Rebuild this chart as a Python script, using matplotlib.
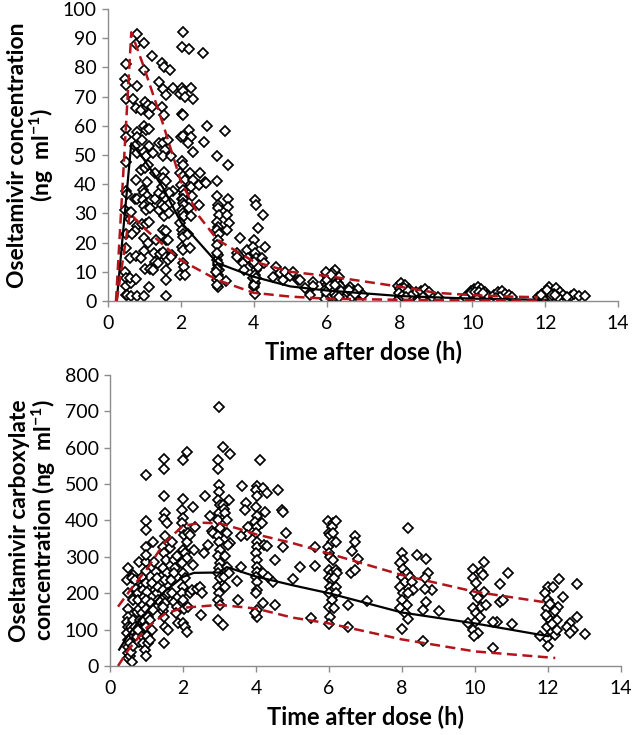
import matplotlib
matplotlib.use("Agg")
import matplotlib.pyplot as plt

plt.rcParams["font.family"] = ["Lato", "DejaVu Sans"]
plt.rcParams["mathtext.default"] = "regular"

# ---- top panel: oseltamivir (observed points) ----
ost_t = [
    0.49, 0.46, 0.49, 0.49, 0.49, 0.49, 0.49, 0.50, 0.46, 0.49, 0.49, 0.46, 0.49, 0.49, 0.49, 0.53, 0.53,
    0.58, 0.60, 0.64, 0.60, 0.64, 0.60, 0.62,
    0.81, 0.78, 0.81, 0.69, 0.78, 0.81, 0.81, 0.73, 0.81, 0.78, 0.73, 0.81, 0.81, 0.73, 0.78, 0.78, 0.81, 0.67,
    0.99, 0.99, 0.92, 1.01, 1.06, 0.99, 1.03, 0.94, 0.98, 1.04, 0.92, 1.02, 1.06, 0.96, 0.99, 1.06, 0.96, 1.06,
    0.99, 1.03, 0.94, 1.03, 0.98, 0.99, 0.92, 1.02, 0.99,
    1.10, 1.13, 1.12, 1.13, 1.11, 1.17, 1.15, 1.13, 1.10, 1.15, 1.12,
    1.20, 1.22, 1.24, 1.29, 1.28, 1.33, 1.27, 1.29, 1.24,
    1.40, 1.40, 1.40, 1.40, 1.44, 1.38,
    1.49, 1.54, 1.51, 1.58, 1.49, 1.54, 1.51, 1.56, 1.51, 1.54, 1.51, 1.49, 1.58, 1.53, 1.60, 1.49, 1.56, 1.54,
    1.51, 1.60, 1.58, 1.51, 1.58, 1.60, 1.60, 1.60,
    1.70, 1.79, 1.65, 1.72, 1.79, 1.68, 1.70, 1.67, 1.65, 1.77, 1.65, 1.74,
    2.05, 2.02, 1.97, 2.02, 2.06, 2.02, 2.05, 2.11, 2.00, 2.05, 2.02, 2.05, 1.97, 2.06, 2.11, 2.00, 2.05, 2.09,
    2.02, 2.06, 2.05, 2.08, 2.02, 2.05, 2.09, 1.97, 2.02, 2.06, 2.05, 2.02, 2.06, 2.05, 2.09, 1.97, 2.11,
    2.22, 2.29, 2.32, 2.21, 2.29, 2.20, 2.32, 2.25, 2.34, 2.27, 2.30, 2.23, 2.29, 2.20, 2.25,
    2.60, 2.63, 2.52, 2.50, 2.66, 2.50, 2.71, 2.69,
    3.00, 2.98, 3.00, 3.03, 3.01, 3.06, 2.98, 3.03, 2.98, 3.06, 3.02, 2.98, 3.03, 2.98, 3.01, 3.06, 3.03, 2.98,
    3.01, 3.00, 3.02, 3.00, 3.04, 3.00, 2.97,
    3.21, 3.30, 3.30, 3.30, 3.28, 3.33, 3.26, 3.24,
    3.62, 3.55, 3.62, 3.70, 3.81, 3.85, 3.73, 3.53,
    4.04, 4.06, 4.02, 3.99, 4.04, 4.06, 4.02, 4.06, 3.99, 4.04, 4.02, 4.04, 4.13, 4.13, 4.25, 4.31, 4.22, 4.27,
    4.00, 4.03, 4.00, 4.07,
    4.61, 4.52, 4.72, 4.80, 4.86, 5.00, 5.21, 5.09,
    5.27, 5.63, 5.63, 5.55, 5.40,
    6.24, 6.33, 5.98, 6.05, 6.15, 5.95, 6.00, 6.10, 6.20, 6.30, 5.97, 6.05, 6.15, 6.25, 6.38, 6.00, 6.10, 6.20,
    6.05, 5.96, 6.30, 6.40, 6.12, 5.99, 6.02, 6.08, 6.18, 6.27, 5.97, 6.12, 6.22, 6.35,
    6.65, 6.75, 6.80, 6.90, 7.00, 6.60, 6.70, 6.85, 6.62, 6.78,
    7.97, 8.05, 8.15, 8.25, 8.10, 8.00, 8.20, 8.30, 8.40, 8.00, 8.10, 8.20, 8.35, 7.98, 8.05, 8.45,
    8.02, 8.12, 8.22, 8.32, 7.99, 8.08, 8.18,
    8.60, 8.70, 8.75, 8.85, 8.90, 9.05, 8.65, 8.80,
    9.90, 9.95, 10.05, 10.15, 10.25, 10.35, 10.00, 10.10, 10.20, 10.30, 10.05, 9.80, 10.40,
    9.97, 10.08, 10.18, 10.28, 10.12,
    10.60, 10.70, 10.80, 10.90, 11.00, 11.10, 10.75, 10.65,
    11.80, 11.90, 12.00, 12.10, 12.20, 12.30, 12.40, 12.50, 12.00, 12.15, 12.35, 11.95, 12.25,
    12.05, 12.18, 12.28, 11.88,
    12.70, 12.80, 12.93, 13.10, 12.60,
]
ost_c = [
    81, 76, 74, 69, 59, 56, 47.5, 37.5, 31, 23, 18, 10, 8, 5, 2, 2, 36.5,
    30, 28, 30.5, 14.6, 6, 8, 1.7,
    91.4, 88, 73.7, 69, 66, 58, 56, 53, 50.6, 41.5, 35, 35, 25.7, 24, 15.4, 7.4, 1.7, 23,
    88.3, 79, 65.5, 68, 66.6, 60, 58.6, 55, 51, 49.5, 45, 45.5, 40.6, 38, 37, 36, 34.6, 33.5,
    32.6, 31, 26.4, 26.4, 21.5, 17, 14.6, 11, 1.7,
    67, 64, 59, 53, 46.6, 34.6, 32, 27, 20, 11, 4.7,
    84, 66.6, 50.6, 43.8, 35, 21, 16.3, 13.5, 10.6,
    75, 54, 37, 31, 16, 13,
    81.5, 80, 72.6, 70.6, 66.6, 63.8, 54, 51.8, 49.7, 44.3, 42, 39, 41, 35.8, 34.6, 33, 32.3, 29,
    24.3, 24, 21, 16.7, 15, 10.6, 7.2, 1.7,
    79, 73, 55, 49.5, 37.5, 37, 33.5, 30, 21, 15.8, 14, 15,
    92, 87, 71, 73, 72, 64, 63.8, 70, 56, 56.6, 48, 46.6, 43.8, 42.9, 41.5, 39.7, 38, 36.7,
    35, 35, 33.5, 33, 31, 30, 29, 26.6, 24.3, 23, 21.8, 18.6, 17.3, 13, 11.8, 9, 9,
    86.3, 73, 69, 58.6, 56, 54, 51, 43.8, 41.5, 39, 35.8, 31.8, 29, 23, 18,
    85, 54.6, 43.8, 39.8, 40.6, 33, 60, 40.3,
    49.5, 41, 35.8, 33, 32, 29.5, 27, 25.5, 24.3, 23, 21, 19, 15.8, 14, 12.3, 10.6, 9, 7.2,
    4.7, 16.5, 13, 11, 8, 5.5, 10,
    58.3, 46.4, 34.9, 32.3, 29.5, 26.6, 24.3, 7,
    21.5, 16.3, 15, 13, 17.5, 14.6, 10.6, 15,
    34.6, 33, 21, 18.6, 16.3, 14.6, 12.3, 10.6, 7.7, 6, 4.7, 2.4, 11.8, 25, 29.5, 18.6, 14.6, 13,
    13.5, 9, 5.5, 8,
    11.8, 8.3, 9.5, 7.2, 10, 8.6, 7.2, 10,
    7.2, 6.6, 5, 2, 4.5,
    10.6, 8.3, 9, 8, 9.5, 6.5, 5.5, 6.5, 7, 6, 4, 3.5, 4.5, 4, 5, 2, 2.5, 1.5,
    1, 0.8, 2.5, 3.5, 7.8, 10, 7.2, 5, 3, 1.8, 3, 9, 5.5, 1.2,
    4.7, 3.5, 2, 3, 2, 2.8, 1.5, 4.2, 3.8, 2.5,
    5, 6, 5.5, 4, 3.8, 3, 2.5, 3, 2, 1.5, 1, 0.8, 1.2, 0.6, 2.2, 3.2,
    4.2, 4.6, 3.5, 1.8, 2.7, 1.8, 1.5,
    3.5, 4, 2.5, 2, 1.5, 1.5, 1.2, 3,
    2.5, 3.5, 4, 4.8, 4, 3, 1.5, 1, 2, 1.5, 0.5, 1.5, 2.2,
    2.8, 3, 3.2, 2.6, 0.8,
    2, 3, 3.5, 2.5, 2, 1.5, 1.5, 1,
    1.5, 2.5, 3, 4.8, 3.5, 4.5, 3, 2, 1, 1.5, 1.2, 0.6, 2.5,
    3.8, 2.2, 2, 2,
    1.7, 2.3, 1.7, 1.7, 1.5,
]

# median and 90% prediction interval (top)
ost_med_t = [0.24, 0.64, 0.96, 1.5, 2, 3, 4, 5, 6, 8, 10, 12]
ost_med_c = [0, 54, 49, 39, 27, 13, 8.3, 5, 3.6, 1.7, 0.8, 0.4]
ost_hi_t = [0.22, 0.64, 0.96, 1.5, 2, 2.5, 3, 4, 5, 6, 8, 9, 10, 11, 11.8]
ost_hi_c = [0, 92, 81, 61, 41, 29, 21, 13.5, 10, 8.6, 4.9, 2.8, 2, 1.5, 1.3]
ost_lo_t = [0.24, 0.6, 1.05, 2, 3, 4, 5, 6, 8, 10, 12]
ost_lo_c = [0, 30, 24.3, 14, 7.2, 2.8, 1.5, 0.8, 0.4, 0.2, 0.1]

# ---- bottom panel: oseltamivir carboxylate ----
oc_t = [
    0.50, 0.46, 0.50, 0.48, 0.50, 0.46, 0.48, 0.46, 0.50, 0.48, 0.50, 0.48, 0.55, 0.58, 0.55, 0.57, 0.59,
    0.64, 0.61, 0.69, 0.71, 0.64, 0.73, 0.62, 0.69, 0.73, 0.64, 0.61, 0.78, 0.76, 0.80, 0.82, 0.78, 0.80,
    0.80, 0.87, 0.90, 0.91, 0.94, 0.90, 0.87, 0.91, 0.96, 0.90, 0.91, 0.96, 1.00, 0.99,
    0.99, 0.99, 0.99, 0.98, 1.00, 1.00, 0.99, 1.02, 1.00, 0.99, 1.03, 1.00, 1.02, 1.05,
    1.19, 1.21, 1.26, 1.14, 1.23, 1.28, 1.31, 1.11, 1.17, 1.10, 1.14, 1.10, 1.28, 1.32,
    1.49, 1.49, 1.49, 1.51, 1.49, 1.55, 1.51, 1.44, 1.49, 1.53, 1.46, 1.55, 1.51, 1.46, 1.55, 1.51, 1.46, 1.49,
    1.51, 1.60, 1.48, 1.44, 1.60,
    1.64, 1.69, 1.74, 1.78, 1.83, 1.74, 1.67, 1.71, 1.76, 1.87, 1.83, 1.80, 1.87,
    2.00, 2.10, 2.00, 1.97, 2.01, 1.97, 2.00, 2.04, 2.10, 2.15, 2.19, 2.00, 2.05, 2.10, 1.97, 2.01, 2.05, 2.00,
    1.97, 2.01, 2.04, 2.00, 2.05, 2.10, 2.15, 2.19, 2.24,
    2.28, 2.33, 2.30, 2.28, 2.37, 2.47, 2.51, 2.50, 2.58, 2.60, 2.69,
    2.74, 2.80, 2.83,
    2.98, 2.97, 2.97, 2.98, 2.99, 2.97, 3.01, 2.99, 2.97, 3.01, 2.97, 2.99, 3.01, 2.97, 3.01, 2.99, 2.97, 3.01,
    2.97, 2.99, 2.97, 3.01, 2.97, 3.09,
    3.09, 3.29, 3.09, 3.12, 3.15, 3.20, 3.27, 3.20, 3.29, 3.24, 3.15, 3.20, 3.12, 3.26, 3.15,
    3.62, 3.72, 3.70, 3.79, 3.74, 3.58, 3.49, 3.60, 3.52,
    4.02, 4.00, 4.02, 4.00, 4.04, 3.97, 4.02, 4.00, 4.02, 4.04, 4.00, 4.02, 4.04, 4.02, 4.00, 4.04, 4.02, 4.00,
    4.02, 4.04, 3.97, 4.11, 4.20, 4.29, 4.25, 4.16, 4.22, 4.29, 4.20, 4.18,
    4.61, 4.70, 4.73, 4.82, 4.75, 4.52, 4.34, 4.52, 4.47, 5.00, 5.20,
    5.62, 5.62, 5.50,
    5.98, 6.10, 6.20, 6.07, 5.99, 6.04, 6.10, 6.07, 6.20, 5.98, 6.00, 6.04, 6.10, 5.99, 6.07, 6.18, 6.23, 5.99,
    6.07, 6.13, 6.04, 6.10, 6.18, 5.99, 6.20, 6.07, 6.00, 6.13, 6.04, 5.99,
    6.71, 6.71, 6.62, 6.80, 6.59, 6.70, 6.53, 6.53, 7.03,
    7.99, 8.04, 8.17, 7.95, 8.04, 8.13, 7.99, 8.08, 8.22, 8.27, 8.31, 7.95, 8.04, 8.17, 7.99, 8.13, 7.95, 8.08,
    8.17, 7.99,
    8.40, 8.67, 8.70, 8.64, 8.82, 8.67, 8.58, 9.00, 8.58, 8.63,
    10.26, 9.95, 10.17, 10.22, 9.95, 10.04, 10.26, 9.99, 10.08, 10.17, 9.95, 10.04, 10.13, 9.99, 9.95, 10.08,
    9.97, 10.30, 9.82,
    10.68, 10.91, 10.68, 10.78, 10.59, 10.50, 11.00, 10.50,
    12.31, 12.01, 12.15, 11.92, 12.42, 12.01, 11.96, 12.28, 12.15, 12.01, 12.24, 11.96, 12.10, 12.19, 11.96,
    12.01, 11.78, 12.05, 12.20, 12.10, 11.95, 12.25,
    12.79, 12.60, 12.51, 12.69, 12.79, 12.60, 13.01,
]
oc_c = [
    270, 236, 200, 158, 136, 122, 108, 90, 71.5, 53, 35, 23, 27, 39, 62, 108, 99,
    250, 241, 236, 213, 181, 149, 126, 108, 81, 55, 12, 200, 181, 158, 126, 99, 67,
    287, 246, 223, 209, 191, 168, 145, 126, 108, 81, 62, 44, 27.5, 287,
    525, 399, 374, 328, 305, 262, 227, 204, 181, 158, 136, 108, 82.5, 62,
    342, 287, 259, 227, 209, 200, 181, 172, 154, 126, 99, 71.5, 241, 218,
    569, 541, 466, 420, 403, 392, 356, 328, 310, 291, 269, 255, 236, 209, 195, 172, 152, 136,
    108, 99, 62, 163, 200,
    324, 342, 291, 269, 301, 255, 236, 200, 177, 191, 163, 145, 117,
    566, 589, 458, 429, 406, 392, 374, 360, 342, 365, 360, 319, 310, 296, 282, 255, 241, 218,
    200, 181, 158, 117, 108, 94, 163, 200, 209,
    438, 383, 319, 278, 213, 218, 200, 140, 310, 467, 333,
    411, 371, 365,
    713, 566, 541, 498, 479, 456, 443, 420, 401, 378, 356, 342, 319, 301, 282, 269, 255, 241,
    218, 200, 181, 168, 126, 113,
    601, 582, 443, 431, 420, 401, 456, 365, 337, 333, 301, 273, 246, 255, 218,
    495, 449, 429, 383, 360, 356, 235, 273, 181,
    495, 484, 466, 438, 411, 397, 383, 365, 342, 328, 310, 291, 273, 259, 246, 232, 209, 200,
    154, 136, 145, 566, 489, 475, 424, 392, 333, 330, 255, 172,
    484, 429, 422, 365, 328, 291, 246, 168, 232, 238, 273,
    328, 275, 131,
    398, 393, 398, 383, 365, 360, 365, 342, 342, 328, 310, 300, 291, 264, 255, 264, 255, 241,
    236, 241, 218, 209, 218, 200, 200, 181, 163, 159, 136, 115,
    356, 342, 315, 293, 255, 264, 168, 108, 180,
    310, 291, 380, 282, 268, 255, 246, 232, 246, 232, 209, 218, 200, 200, 181, 168, 159, 145,
    128, 101,
    304, 293, 255, 241, 209, 177, 154, 150, 70, 213,
    287, 268, 259, 250, 241, 227, 204, 200, 186, 163, 159, 145, 136, 122, 99, 90,
    82, 168, 117,
    225, 256, 177, 181, 122, 122, 115, 50,
    238, 218, 218, 200, 191, 181, 159, 163, 145, 131, 126, 108, 94, 85, 76,
    55, 82, 170, 150, 115, 140, 100,
    225, 117, 108, 99, 136, 90, 88,
]

oc_med_t = [0.25, 0.5, 1, 1.5, 2, 2.3, 3, 3.2, 3.5, 4, 5, 6, 8, 10, 12]
oc_med_c = [45, 85, 150, 205, 245, 256, 257, 272, 262, 246, 222, 200, 147, 117, 82]
oc_hi_t = [0.22, 0.6, 1, 1.5, 2, 2.5, 3, 3.5, 4, 5, 6, 8, 10, 12]
oc_hi_c = [163, 215, 265, 340, 385, 394, 392, 378, 362, 338, 309, 250, 204, 174]
oc_lo_t = [0.22, 0.5, 1, 1.5, 2, 3, 4, 5, 6, 8, 10, 12.2]
oc_lo_c = [0, 44, 105, 143, 160, 168, 158, 133, 117, 73, 40, 22]

RED = "#b3141b"
GREY = "#8c8c8c"

fig = plt.figure(figsize=(6.34, 7.35), dpi=100)
ax1 = fig.add_axes([0.1703, 0.5905, 0.8047, 0.3973])
ax2 = fig.add_axes([0.1735, 0.0939, 0.8060, 0.3959])


def style(ax, ymax, ystep, ylabel):
    ax.set_xlim(0, 14)
    ax.set_ylim(0, ymax)
    ax.set_xticks(range(0, 15, 2))
    ax.set_yticks(range(0, ymax + 1, ystep))
    for s in ("top", "right"):
        ax.spines[s].set_visible(False)
    for s in ("left", "bottom"):
        ax.spines[s].set_color(GREY)
        ax.spines[s].set_linewidth(1.0)
    ax.tick_params(direction="out", length=4, width=1.0, color=GREY,
                   labelsize=14, labelcolor="black")
    ax.tick_params(axis="x", pad=6)
    ax.tick_params(axis="y", pad=4)
    ax.set_xlabel("Time after dose (h)", fontsize=17, fontweight="bold", labelpad=6)
    ax.set_ylabel(ylabel, fontsize=16.5, fontweight="bold", labelpad=5, linespacing=1.0)


def draw(ax, t, c, mt, mc, ht, hc, lt, lc):
    ax.plot(t, c, linestyle="none", marker="D", markersize=4.8,
            markerfacecolor="white", markeredgecolor="black", markeredgewidth=1.25, zorder=2)
    ax.plot(mt, mc, color="black", lw=1.6, zorder=3)
    ax.plot(ht, hc, color=RED, lw=1.8, ls=(0, (4, 2.2)), zorder=3)
    ax.plot(lt, lc, color=RED, lw=1.8, ls=(0, (4, 2.2)), zorder=3)


draw(ax1, ost_t, ost_c, ost_med_t, ost_med_c, ost_hi_t, ost_hi_c, ost_lo_t, ost_lo_c)
draw(ax2, oc_t, oc_c, oc_med_t, oc_med_c, oc_hi_t, oc_hi_c, oc_lo_t, oc_lo_c)

style(ax1, 100, 10, "Oseltamivir concentration\n(ng  ml$^{-1}$)")
style(ax2, 800, 100, "Oseltamivir carboxylate\nconcentration (ng  ml$^{-1}$)")

fig.savefig("out.png", dpi=100)
